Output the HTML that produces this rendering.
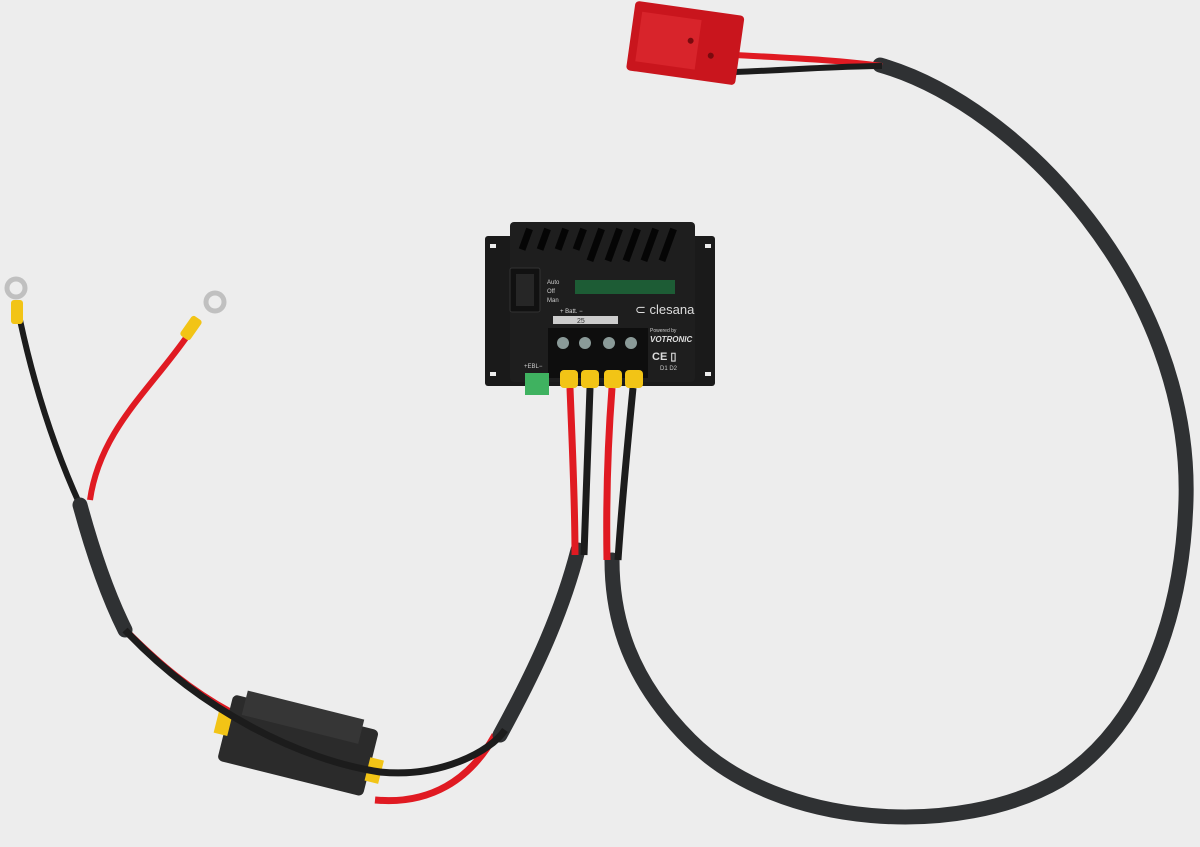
<!DOCTYPE html>
<html><head><meta charset="utf-8"><style>
html,body{margin:0;padding:0;background:#ededed;}
svg{display:block}
text{font-family:"Liberation Sans",sans-serif;}
</style></head><body>
<svg width="1200" height="847" viewBox="0 0 1200 847">
<rect width="1200" height="847" fill="#ededed"/>
<!-- right loop cable -->
<path d="M880,65 C1020,105 1192,290 1186,500 C1182,640 1130,735 1060,780 C960,838 780,830 690,740 C630,680 612,620 612,560" fill="none" stroke="#2f3133" stroke-width="15" stroke-linecap="round"/>
<path d="M607,560 C606,500 608,440 612,388" fill="none" stroke="#e01a22" stroke-width="7"/>
<path d="M618,560 C622,500 628,440 633,388" fill="none" stroke="#1c1c1c" stroke-width="7"/>
<!-- Anderson connector wires -->
<path d="M735,55 C790,58 840,60 882,66" fill="none" stroke="#e01a22" stroke-width="6"/>
<path d="M735,72 C790,70 840,66 882,66" fill="none" stroke="#1c1c1c" stroke-width="6"/>
<!-- Anderson connector -->
<g transform="rotate(8 685 45)">
<rect x="630" y="8" width="110" height="70" rx="4" fill="#c9151d"/>
<rect x="638" y="18" width="60" height="50" fill="#d8242b"/>
<circle cx="690" cy="40" r="3" fill="#7a0a0e"/><circle cx="712" cy="52" r="3" fill="#7a0a0e"/>
</g>
<!-- left cables -->
<path d="M20,320 C35,390 55,450 80,505" fill="none" stroke="#1c1c1c" stroke-width="6"/>
<path d="M188,335 C150,390 100,430 90,500" fill="none" stroke="#e01a22" stroke-width="6"/>
<path d="M125,630 C160,665 190,690 230,712" fill="none" stroke="#e01a22" stroke-width="7"/>
<path d="M80,505 C95,560 110,600 125,630" fill="none" stroke="#2f3133" stroke-width="15" stroke-linecap="round"/>
<path d="M375,800 C430,805 470,780 495,735" fill="none" stroke="#e01a22" stroke-width="7"/>
<path d="M500,735 C530,680 560,620 578,550" fill="none" stroke="#2f3133" stroke-width="15" stroke-linecap="round"/>
<path d="M575,555 C575,500 572,440 570,388" fill="none" stroke="#e01a22" stroke-width="7"/>
<path d="M584,555 C586,500 588,440 590,388" fill="none" stroke="#1c1c1c" stroke-width="7"/>
<!-- ring terminals -->
<circle cx="16" cy="288" r="9" fill="none" stroke="#c0c0c0" stroke-width="5"/>
<rect x="11" y="300" width="12" height="24" rx="3" fill="#f2c416"/>
<circle cx="215" cy="302" r="9" fill="none" stroke="#c0c0c0" stroke-width="5" />
<rect x="185" y="316" width="12" height="24" rx="3" fill="#f2c416" transform="rotate(35 191 328)"/>
<!-- fuse holder -->
<g transform="rotate(14 300 750)">
<rect x="222" y="712" width="150" height="68" rx="5" fill="#2b2b2b"/>
<rect x="235" y="705" width="120" height="25" fill="#363636"/>
<rect x="212" y="730" width="14" height="24" fill="#f2c416"/>
<rect x="370" y="740" width="14" height="24" fill="#f2c416"/>
</g>
<path d="M125,630 C200,710 300,760 380,772 C440,778 490,752 505,730" fill="none" stroke="#1c1c1c" stroke-width="7"/>
<!-- controller -->
<rect x="485" y="236" width="230" height="150" rx="3" fill="#1a1a1a"/>
<rect x="510" y="222" width="185" height="160" rx="4" fill="#1e1e1e"/>
<g fill="#050505">
<rect x="522" y="228" width="7" height="22" transform="rotate(20 525 240)"/>
<rect x="540" y="228" width="7" height="22" transform="rotate(20 543 240)"/>
<rect x="558" y="228" width="7" height="22" transform="rotate(20 561 240)"/>
<rect x="576" y="228" width="7" height="22" transform="rotate(20 579 240)"/>
<rect x="594" y="228" width="7" height="34" transform="rotate(20 597 240)"/>
<rect x="612" y="228" width="7" height="34" transform="rotate(20 615 240)"/>
<rect x="630" y="228" width="7" height="34" transform="rotate(20 633 240)"/>
<rect x="648" y="228" width="7" height="34" transform="rotate(20 651 240)"/>
<rect x="666" y="228" width="7" height="34" transform="rotate(20 669 240)"/>
</g>
<g fill="#1d5c35"><rect x="575" y="280" width="100" height="14"/></g>
<rect x="490" y="244" width="6" height="4" fill="#ededed"/><rect x="705" y="244" width="6" height="4" fill="#ededed"/>
<rect x="490" y="372" width="6" height="4" fill="#ededed"/><rect x="705" y="372" width="6" height="4" fill="#ededed"/>
<rect x="510" y="268" width="30" height="44" rx="2" fill="#111" stroke="#333"/>
<rect x="516" y="274" width="18" height="32" fill="#262626"/>
<text x="547" y="284" font-size="6" fill="#ccc">Auto</text>
<text x="547" y="293" font-size="6" fill="#ccc">Off</text>
<text x="547" y="302" font-size="6" fill="#ccc">Man</text>
<text x="635" y="314" font-size="13" fill="#ddd">⊂ clesana</text>
<text x="560" y="313" font-size="6" fill="#ddd">+ Batt. −</text>
<rect x="553" y="316" width="65" height="8" fill="#ccc"/>
<text x="577" y="323" font-size="7" fill="#333">25</text>
<rect x="548" y="328" width="100" height="50" fill="#0e0e0e"/>
<g fill="#8a9a98"><circle cx="563" cy="343" r="6"/><circle cx="585" cy="343" r="6"/><circle cx="609" cy="343" r="6"/><circle cx="631" cy="343" r="6"/></g>
<text x="650" y="332" font-size="5" fill="#ccc">Powered by</text>
<text x="650" y="342" font-size="8" font-weight="bold" font-style="italic" fill="#ddd">VOTRONIC</text>
<text x="652" y="360" font-size="11" font-weight="bold" fill="#ddd">CE ▯</text>
<text x="660" y="370" font-size="6" fill="#ccc">D1 D2</text>
<text x="524" y="368" font-size="6" fill="#ccc">+EBL−</text>
<rect x="525" y="373" width="24" height="22" fill="#3fb260"/>
<g fill="#f2c416"><rect x="560" y="370" width="18" height="18" rx="4"/><rect x="581" y="370" width="18" height="18" rx="4"/><rect x="604" y="370" width="18" height="18" rx="4"/><rect x="625" y="370" width="18" height="18" rx="4"/></g>
</svg>
</body></html>
